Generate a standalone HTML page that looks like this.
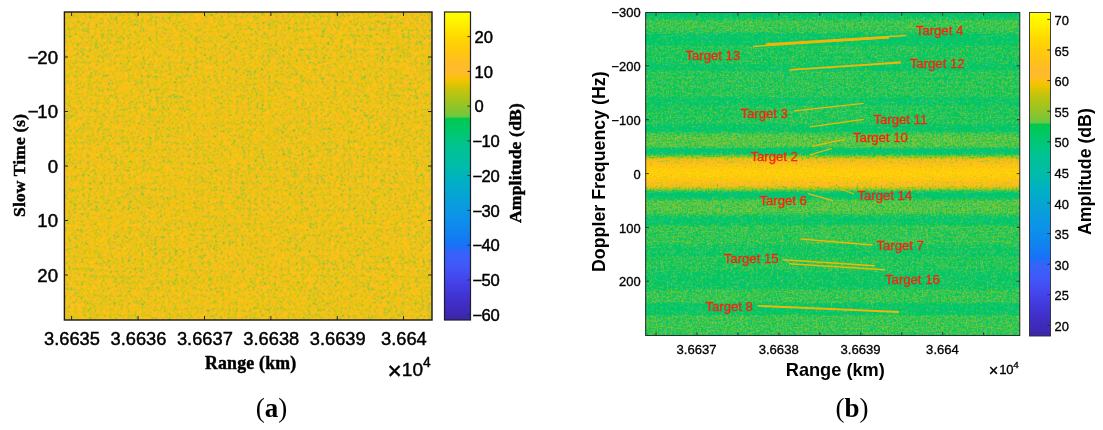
<!DOCTYPE html>
<html lang="en"><head><meta charset="utf-8"><title>Figure</title>
<style>html,body{margin:0;padding:0;background:#fff}body{width:1103px;height:430px;overflow:hidden}svg{display:block}.s{font-family:"Liberation Sans", Arial, Helvetica, sans-serif}.r{font-family:"Liberation Serif", "Times New Roman", serif}.b{font-weight:bold}.ka{stroke:#000;stroke-width:0.45px}.kb{stroke:#000;stroke-width:0.32px}.ks{stroke:#000;stroke-width:0.45px}.tg{fill:#FF200C;font-size:13.15px;stroke:#FF200C;stroke-width:0.3px}</style></head><body>
<svg width="1103" height="430" viewBox="0 0 1103 430">
<defs>
<linearGradient id="cm" x1="0" y1="1" x2="0" y2="0"><stop offset="0.000" stop-color="#3C26A8"/><stop offset="0.065" stop-color="#4030CC"/><stop offset="0.130" stop-color="#4444EC"/><stop offset="0.178" stop-color="#4058F8"/><stop offset="0.217" stop-color="#3862F8"/><stop offset="0.240" stop-color="#1870F8"/><stop offset="0.276" stop-color="#1080F0"/><stop offset="0.340" stop-color="#0C94E8"/><stop offset="0.390" stop-color="#08A0D8"/><stop offset="0.452" stop-color="#00B0C4"/><stop offset="0.503" stop-color="#00BCA8"/><stop offset="0.565" stop-color="#00C490"/><stop offset="0.617" stop-color="#00C868"/><stop offset="0.655" stop-color="#00C850"/><stop offset="0.659" stop-color="#6CC840"/><stop offset="0.695" stop-color="#94C428"/><stop offset="0.730" stop-color="#B4C414"/><stop offset="0.755" stop-color="#D0C408"/><stop offset="0.775" stop-color="#F0C400"/><stop offset="0.790" stop-color="#FCC010"/><stop offset="0.802" stop-color="#FFBC28"/><stop offset="0.820" stop-color="#FFBA2C"/><stop offset="0.860" stop-color="#FFC414"/><stop offset="0.919" stop-color="#FFD800"/><stop offset="0.958" stop-color="#FFEE00"/><stop offset="1.000" stop-color="#FFFF00"/></linearGradient>
<filter id="fA" x="0" y="0" width="100%" height="100%" color-interpolation-filters="sRGB"><feTurbulence type="fractalNoise" baseFrequency="0.85" numOctaves="2" seed="3" result="n"/><feColorMatrix in="n" type="matrix" values="1 0 0 0 0  1 0 0 0 0  1 0 0 0 0  0 0 0 0 1" result="g0"/><feComponentTransfer in="g0" result="g"><feFuncR type="table" tableValues="0 0 0 .2 .36 .5 .56 .62 .68 .74 .8"/><feFuncG type="table" tableValues="0 0 0 .2 .36 .5 .56 .62 .68 .74 .8"/><feFuncB type="table" tableValues="0 0 0 .2 .36 .5 .56 .62 .68 .74 .8"/></feComponentTransfer><feComposite in="g" in2="SourceGraphic" operator="arithmetic" k1="0" k2="0.5" k3="1" k4="-0.250" result="v"/><feComponentTransfer in="v" result="c"><feFuncR type="table" tableValues="0.235 0.237 0.239 0.241 0.243 0.245 0.247 0.248 0.25 0.252 0.254 0.256 0.258 0.26 0.262 0.264 0.265 0.266 0.263 0.261 0.258 0.256 0.253 0.25 0.243 0.237 0.231 0.224 0.21 0.167 0.125 0.092 0.085 0.079 0.072 0.065 0.061 0.06 0.058 0.056 0.054 0.052 0.05 0.048 0.046 0.043 0.041 0.039 0.036 0.034 0.031 0.027 0.023 0.019 0.015 0.011 0.007 0.003 0 0 0 0 0 0 0 0 0 0 0 0 0 0 0 0 0 0 0 0 0 0 0 0 0 0 0.132 0.446 0.48 0.514 0.548 0.582 0.61 0.638 0.666 0.694 0.725 0.759 0.794 0.833 0.882 0.931 0.961 0.985 0.995 1 1 1 1 1 1 1 1 1 1 1 1 1 1 1 1 1 1 1 1 1 1 1 1 1 1"/><feFuncG type="table" tableValues="0.149 0.154 0.158 0.163 0.168 0.173 0.177 0.182 0.187 0.195 0.204 0.213 0.223 0.232 0.242 0.251 0.261 0.271 0.284 0.297 0.31 0.322 0.335 0.347 0.355 0.363 0.37 0.378 0.388 0.407 0.426 0.443 0.457 0.47 0.484 0.497 0.508 0.518 0.528 0.537 0.547 0.556 0.566 0.575 0.584 0.591 0.599 0.606 0.613 0.621 0.628 0.636 0.644 0.652 0.66 0.668 0.676 0.683 0.691 0.698 0.706 0.713 0.72 0.727 0.734 0.74 0.744 0.748 0.752 0.756 0.759 0.763 0.767 0.77 0.773 0.775 0.777 0.78 0.782 0.784 0.784 0.784 0.784 0.784 0.784 0.782 0.779 0.775 0.772 0.769 0.769 0.769 0.769 0.769 0.769 0.769 0.769 0.769 0.769 0.769 0.762 0.754 0.744 0.736 0.733 0.73 0.737 0.745 0.753 0.76 0.768 0.778 0.789 0.799 0.809 0.82 0.83 0.84 0.853 0.871 0.888 0.905 0.923 0.938 0.95 0.963 0.975 0.988 1"/><feFuncB type="table" tableValues="0.659 0.676 0.693 0.71 0.727 0.744 0.761 0.778 0.795 0.81 0.825 0.84 0.856 0.871 0.886 0.901 0.916 0.928 0.936 0.944 0.951 0.959 0.967 0.973 0.973 0.973 0.973 0.973 0.973 0.973 0.973 0.971 0.964 0.957 0.95 0.943 0.939 0.935 0.931 0.927 0.923 0.919 0.916 0.912 0.905 0.895 0.885 0.876 0.866 0.856 0.846 0.836 0.827 0.817 0.807 0.797 0.787 0.777 0.766 0.749 0.733 0.716 0.699 0.682 0.665 0.652 0.64 0.628 0.616 0.604 0.592 0.58 0.569 0.549 0.525 0.502 0.478 0.454 0.431 0.407 0.388 0.369 0.349 0.33 0.294 0.238 0.217 0.197 0.176 0.156 0.139 0.121 0.104 0.086 0.07 0.055 0.041 0.027 0.015 0.002 0.026 0.059 0.117 0.159 0.166 0.172 0.153 0.135 0.117 0.098 0.08 0.069 0.058 0.048 0.038 0.027 0.017 0.007 0 0 0 0 0 0 0 0 0 0 0"/></feComponentTransfer><feConvolveMatrix in="c" order="3" kernelMatrix="1 2 1 2 5 2 1 2 1" edgeMode="duplicate" preserveAlpha="true"/></filter>
<filter id="fB" x="0" y="0" width="100%" height="100%" color-interpolation-filters="sRGB"><feTurbulence type="fractalNoise" baseFrequency="0.8" numOctaves="2" seed="5" result="n"/><feColorMatrix in="n" type="matrix" values="1 0 0 0 0  1 0 0 0 0  1 0 0 0 0  0 0 0 0 1" result="g0"/><feComponentTransfer in="g0" result="g"><feFuncR type="table" tableValues="0 0 0 .15 .4 .5 .56 .62 .68 .74 .8"/><feFuncG type="table" tableValues="0 0 0 .15 .4 .5 .56 .62 .68 .74 .8"/><feFuncB type="table" tableValues="0 0 0 .15 .4 .5 .56 .62 .68 .74 .8"/></feComponentTransfer><feComposite in="g" in2="SourceGraphic" operator="arithmetic" k1="0" k2="0.32" k3="0.5" k4="0.340" result="v"/><feComponentTransfer in="v" result="c"><feFuncR type="table" tableValues="0.235 0.237 0.239 0.241 0.243 0.245 0.247 0.248 0.25 0.252 0.254 0.256 0.258 0.26 0.262 0.264 0.265 0.266 0.263 0.261 0.258 0.256 0.253 0.25 0.243 0.237 0.231 0.224 0.21 0.167 0.125 0.092 0.085 0.079 0.072 0.065 0.061 0.06 0.058 0.056 0.054 0.052 0.05 0.048 0.046 0.043 0.041 0.039 0.036 0.034 0.031 0.027 0.023 0.019 0.015 0.011 0.007 0.003 0 0 0 0 0 0 0 0 0 0 0 0 0 0 0 0 0 0 0 0 0 0 0 0 0 0 0.132 0.446 0.48 0.514 0.548 0.582 0.61 0.638 0.666 0.694 0.725 0.759 0.794 0.833 0.882 0.931 0.961 0.985 0.995 1 1 1 1 1 1 1 1 1 1 1 1 1 1 1 1 1 1 1 1 1 1 1 1 1 1"/><feFuncG type="table" tableValues="0.149 0.154 0.158 0.163 0.168 0.173 0.177 0.182 0.187 0.195 0.204 0.213 0.223 0.232 0.242 0.251 0.261 0.271 0.284 0.297 0.31 0.322 0.335 0.347 0.355 0.363 0.37 0.378 0.388 0.407 0.426 0.443 0.457 0.47 0.484 0.497 0.508 0.518 0.528 0.537 0.547 0.556 0.566 0.575 0.584 0.591 0.599 0.606 0.613 0.621 0.628 0.636 0.644 0.652 0.66 0.668 0.676 0.683 0.691 0.698 0.706 0.713 0.72 0.727 0.734 0.74 0.744 0.748 0.752 0.756 0.759 0.763 0.767 0.77 0.773 0.775 0.777 0.78 0.782 0.784 0.784 0.784 0.784 0.784 0.784 0.782 0.779 0.775 0.772 0.769 0.769 0.769 0.769 0.769 0.769 0.769 0.769 0.769 0.769 0.769 0.762 0.754 0.744 0.736 0.733 0.73 0.737 0.745 0.753 0.76 0.768 0.778 0.789 0.799 0.809 0.82 0.83 0.84 0.853 0.871 0.888 0.905 0.923 0.938 0.95 0.963 0.975 0.988 1"/><feFuncB type="table" tableValues="0.659 0.676 0.693 0.71 0.727 0.744 0.761 0.778 0.795 0.81 0.825 0.84 0.856 0.871 0.886 0.901 0.916 0.928 0.936 0.944 0.951 0.959 0.967 0.973 0.973 0.973 0.973 0.973 0.973 0.973 0.973 0.971 0.964 0.957 0.95 0.943 0.939 0.935 0.931 0.927 0.923 0.919 0.916 0.912 0.905 0.895 0.885 0.876 0.866 0.856 0.846 0.836 0.827 0.817 0.807 0.797 0.787 0.777 0.766 0.749 0.733 0.716 0.699 0.682 0.665 0.652 0.64 0.628 0.616 0.604 0.592 0.58 0.569 0.549 0.525 0.502 0.478 0.454 0.431 0.407 0.388 0.369 0.349 0.33 0.294 0.238 0.217 0.197 0.176 0.156 0.139 0.121 0.104 0.086 0.07 0.055 0.041 0.027 0.015 0.002 0.026 0.059 0.117 0.159 0.166 0.172 0.153 0.135 0.117 0.098 0.08 0.069 0.058 0.048 0.038 0.027 0.017 0.007 0 0 0 0 0 0 0 0 0 0 0"/></feComponentTransfer><feConvolveMatrix in="c" order="3" kernelMatrix="0 1 0 1 4 1 0 1 0" edgeMode="duplicate" preserveAlpha="true"/></filter>
<linearGradient id="pg" x1="0" y1="0" x2="0" y2="1"><stop offset="0.0000" stop-color="rgb(64,64,64)"/><stop offset="0.0139" stop-color="rgb(65,65,65)"/><stop offset="0.0217" stop-color="rgb(76,76,76)"/><stop offset="0.0279" stop-color="rgb(80,80,80)"/><stop offset="0.0542" stop-color="rgb(80,80,80)"/><stop offset="0.0619" stop-color="rgb(75,75,75)"/><stop offset="0.0697" stop-color="rgb(65,65,65)"/><stop offset="0.0975" stop-color="rgb(65,65,65)"/><stop offset="0.1053" stop-color="rgb(74,74,74)"/><stop offset="0.1594" stop-color="rgb(73,73,73)"/><stop offset="0.1641" stop-color="rgb(66,66,66)"/><stop offset="0.1780" stop-color="rgb(66,66,66)"/><stop offset="0.1842" stop-color="rgb(76,76,76)"/><stop offset="0.2585" stop-color="rgb(76,76,76)"/><stop offset="0.2647" stop-color="rgb(67,67,67)"/><stop offset="0.2833" stop-color="rgb(67,67,67)"/><stop offset="0.2895" stop-color="rgb(74,74,74)"/><stop offset="0.3452" stop-color="rgb(74,74,74)"/><stop offset="0.3514" stop-color="rgb(65,65,65)"/><stop offset="0.3669" stop-color="rgb(65,65,65)"/><stop offset="0.3731" stop-color="rgb(78,78,78)"/><stop offset="0.3824" stop-color="rgb(87,87,87)"/><stop offset="0.4133" stop-color="rgb(87,87,87)"/><stop offset="0.4195" stop-color="rgb(74,74,74)"/><stop offset="0.4241" stop-color="rgb(59,59,59)"/><stop offset="0.4334" stop-color="rgb(59,59,59)"/><stop offset="0.4359" stop-color="rgb(66,66,66)"/><stop offset="0.4412" stop-color="rgb(79,79,79)"/><stop offset="0.4458" stop-color="rgb(102,102,102)"/><stop offset="0.4505" stop-color="rgb(128,128,128)"/><stop offset="0.4567" stop-color="rgb(153,153,153)"/><stop offset="0.4737" stop-color="rgb(184,184,184)"/><stop offset="0.4907" stop-color="rgb(201,201,201)"/><stop offset="0.5031" stop-color="rgb(201,201,201)"/><stop offset="0.5201" stop-color="rgb(184,184,184)"/><stop offset="0.5372" stop-color="rgb(153,153,153)"/><stop offset="0.5433" stop-color="rgb(128,128,128)"/><stop offset="0.5480" stop-color="rgb(102,102,102)"/><stop offset="0.5526" stop-color="rgb(79,79,79)"/><stop offset="0.5579" stop-color="rgb(66,66,66)"/><stop offset="0.5588" stop-color="rgb(59,59,59)"/><stop offset="0.5712" stop-color="rgb(59,59,59)"/><stop offset="0.5774" stop-color="rgb(76,76,76)"/><stop offset="0.5836" stop-color="rgb(85,85,85)"/><stop offset="0.6207" stop-color="rgb(85,85,85)"/><stop offset="0.6269" stop-color="rgb(75,75,75)"/><stop offset="0.6331" stop-color="rgb(66,66,66)"/><stop offset="0.6548" stop-color="rgb(66,66,66)"/><stop offset="0.6610" stop-color="rgb(78,78,78)"/><stop offset="0.7167" stop-color="rgb(78,78,78)"/><stop offset="0.7229" stop-color="rgb(70,70,70)"/><stop offset="0.7539" stop-color="rgb(70,70,70)"/><stop offset="0.7601" stop-color="rgb(75,75,75)"/><stop offset="0.7972" stop-color="rgb(75,75,75)"/><stop offset="0.8034" stop-color="rgb(68,68,68)"/><stop offset="0.8529" stop-color="rgb(68,68,68)"/><stop offset="0.8591" stop-color="rgb(79,79,79)"/><stop offset="0.8963" stop-color="rgb(79,79,79)"/><stop offset="0.9025" stop-color="rgb(66,66,66)"/><stop offset="0.9334" stop-color="rgb(66,66,66)"/><stop offset="0.9396" stop-color="rgb(80,80,80)"/><stop offset="0.9861" stop-color="rgb(80,80,80)"/><stop offset="1.0000" stop-color="rgb(76,76,76)"/></linearGradient>
</defs>
<rect width="1103" height="430" fill="#fff"/>
<rect x="64.0" y="12.0" width="368.0" height="308.0" fill="#F2BE1E"/>
<rect x="64.0" y="12.0" width="368.0" height="308.0" fill="rgb(212,212,212)" filter="url(#fA)"/>
<path d="M71.6 12.0v4M71.6 320.0v-4M138.1 12.0v4M138.1 320.0v-4M204.5 12.0v4M204.5 320.0v-4M270.9 12.0v4M270.9 320.0v-4M337.3 12.0v4M337.3 320.0v-4M403.5 12.0v4M403.5 320.0v-4M64.0 57h4M432.0 57h-4M64.0 111.5h4M432.0 111.5h-4M64.0 166h4M432.0 166h-4M64.0 220.5h4M432.0 220.5h-4M64.0 275h4M432.0 275h-4" stroke="#2a2a30" stroke-width="1" fill="none"/>
<rect x="64.4" y="12.0" width="367.6" height="308.0" fill="none" stroke="#16161e" stroke-width="1.4"/>
<text class="s ka" x="72.0" y="345.1" font-size="18.3" text-anchor="middle">3.6635</text>
<text class="s ka" x="138.5" y="345.1" font-size="18.3" text-anchor="middle">3.6636</text>
<text class="s ka" x="204.9" y="345.1" font-size="18.3" text-anchor="middle">3.6637</text>
<text class="s ka" x="271.29999999999995" y="345.1" font-size="18.3" text-anchor="middle">3.6638</text>
<text class="s ka" x="337.7" y="345.1" font-size="18.3" text-anchor="middle">3.6639</text>
<text class="s ka" x="403.9" y="345.1" font-size="18.3" text-anchor="middle">3.664</text>
<text class="s ka" x="58" y="63.8" font-size="18.6" text-anchor="end">−<tspan dx="-1.2">20</tspan></text>
<text class="s ka" x="58" y="118.3" font-size="18.6" text-anchor="end">−<tspan dx="-1.2">10</tspan></text>
<text class="s ka" x="58" y="172.8" font-size="18.6" text-anchor="end">0</text>
<text class="s ka" x="58" y="227.3" font-size="18.6" text-anchor="end">10</text>
<text class="s ka" x="58" y="281.8" font-size="18.6" text-anchor="end">20</text>
<text class="r b ks" x="250.7" y="369.1" font-size="17.8" letter-spacing="0.22" text-anchor="middle">Range (km)</text>
<text class="r b ks" transform="translate(24.5,165.3) rotate(-90)" font-size="17.4" letter-spacing="0.18" text-anchor="middle">Slow Time (s)</text>
<text class="s ka" x="387.4" y="375.7" font-size="19"><tspan font-size="24.4" dy="3.2">×</tspan><tspan dy="-3.2" dx="0.2">10</tspan><tspan dy="-8.9" dx="0" font-size="13.8">4</tspan></text>
<rect x="444.5" y="12" width="26" height="308" fill="url(#cm)" stroke="#1e1e26" stroke-width="1.2"/>
<path d="M470.5 36.6h-3M470.5 71.4h-3M470.5 106.1h-3M470.5 140.9h-3M470.5 175.6h-3M470.5 210.4h-3M470.5 245.2h-3M470.5 279.9h-3M470.5 314.7h-3" stroke="#2a2a30" stroke-width="1" fill="none"/>
<text class="s ka" x="474.5" y="42.8" font-size="16.6">20</text>
<text class="s ka" x="474.5" y="77.6" font-size="16.6">10</text>
<text class="s ka" x="474.5" y="112.3" font-size="16.6">0</text>
<text class="s ka" x="472.4" y="147.1" font-size="16.6">−<tspan dx="-0.7">10</tspan></text>
<text class="s ka" x="472.4" y="181.8" font-size="16.6">−<tspan dx="-0.7">20</tspan></text>
<text class="s ka" x="472.4" y="216.6" font-size="16.6">−<tspan dx="-0.7">30</tspan></text>
<text class="s ka" x="472.4" y="251.4" font-size="16.6">−<tspan dx="-0.7">40</tspan></text>
<text class="s ka" x="472.4" y="286.1" font-size="16.6">−<tspan dx="-0.7">50</tspan></text>
<text class="s ka" x="472.4" y="320.9" font-size="16.6">−<tspan dx="-0.7">60</tspan></text>
<text class="r b ks" transform="translate(521.2,163) rotate(-90)" font-size="17.5" letter-spacing="0.2" text-anchor="middle">Amplitude (dB)</text>
<text class="r" x="271.5" y="416.5" font-size="27" text-anchor="middle">(<tspan class="b">a</tspan>)</text>
<rect x="645.7" y="12.5" width="374.0999999999999" height="323.0" fill="#22C766"/>
<rect x="645.7" y="12.5" width="374.0999999999999" height="323.0" fill="url(#pg)" filter="url(#fB)"/>
<line x1="753" y1="46.4" x2="889" y2="37.8" stroke="#F2B604" stroke-width="1.5"/>
<line x1="766" y1="44.0" x2="906" y2="35.5" stroke="#F2B604" stroke-width="1.6"/>
<line x1="766" y1="45.0" x2="889" y2="37.3" stroke="#F2B604" stroke-width="2.0"/>
<line x1="789.6" y1="69.9" x2="900.6" y2="62.5" stroke="#F2B604" stroke-width="1.8"/>
<line x1="794" y1="110.9" x2="863.6" y2="103.3" stroke="#F2B604" stroke-width="1.3"/>
<line x1="810" y1="126.9" x2="863.6" y2="119.3" stroke="#F2B604" stroke-width="1.3"/>
<line x1="812" y1="146.3" x2="844.4" y2="139.3" stroke="#F2B604" stroke-width="1.2"/>
<line x1="809.6" y1="154.9" x2="832" y2="148.5" stroke="#F2B604" stroke-width="1.2"/>
<line x1="808" y1="193.7" x2="833" y2="200.7" stroke="#F2B604" stroke-width="1.2"/>
<line x1="841" y1="188.9" x2="854" y2="193.9" stroke="#F2B604" stroke-width="1.1"/>
<line x1="801" y1="238.9" x2="872.4" y2="244.9" stroke="#F2B604" stroke-width="1.5"/>
<line x1="782.4" y1="259.7" x2="875" y2="265.7" stroke="#F2B604" stroke-width="1.55"/>
<line x1="789" y1="263.7" x2="885" y2="269.7" stroke="#F2B604" stroke-width="1.55"/>
<line x1="757.8" y1="305.8" x2="899" y2="312.0" stroke="#F2B604" stroke-width="1.8"/>
<text class="s tg" x="915.8" y="34.8">Target 4</text>
<text class="s tg" x="685.4" y="59.8">Target 13</text>
<text class="s tg" x="909.8" y="68.2">Target 12</text>
<text class="s tg" x="740.4" y="117.8">Target 3</text>
<text class="s tg" x="873.4" y="124.2">Target 11</text>
<text class="s tg" x="853.0" y="142.4">Target 10</text>
<text class="s tg" x="750.4" y="160.8">Target 2</text>
<text class="s tg" x="759.4" y="205.4">Target 6</text>
<text class="s tg" x="857.4" y="199.8">Target 14</text>
<text class="s tg" x="876.4" y="249.8">Target 7</text>
<text class="s tg" x="723.8" y="262.8">Target 15</text>
<text class="s tg" x="885.0" y="284.2">Target 16</text>
<text class="s tg" x="705.4" y="310.8">Target 8</text>
<path d="M656.0 12.5v3.2M656.0 335.5v-3.2M697.0 12.5v3.2M697.0 335.5v-3.2M737.9 12.5v3.2M737.9 335.5v-3.2M778.9 12.5v3.2M778.9 335.5v-3.2M819.8 12.5v3.2M819.8 335.5v-3.2M860.8 12.5v3.2M860.8 335.5v-3.2M901.7 12.5v3.2M901.7 335.5v-3.2M942.7 12.5v3.2M942.7 335.5v-3.2M983.6 12.5v3.2M983.6 335.5v-3.2M645.7 65.8h3.2M1019.8 65.8h-3.2M645.7 119.7h3.2M1019.8 119.7h-3.2M645.7 173.6h3.2M1019.8 173.6h-3.2M645.7 227.4h3.2M1019.8 227.4h-3.2M645.7 281.2h3.2M1019.8 281.2h-3.2" stroke="#2a2a30" stroke-width="0.9" fill="none"/>
<rect x="645.7" y="12.5" width="374.0999999999999" height="323.0" fill="none" stroke="#2c2c34" stroke-width="1"/>
<text class="s kb" x="696.6" y="353.9" font-size="13.1" text-anchor="middle">3.6637</text>
<text class="s kb" x="778.7" y="353.9" font-size="13.1" text-anchor="middle">3.6638</text>
<text class="s kb" x="860.5" y="353.9" font-size="13.1" text-anchor="middle">3.6639</text>
<text class="s kb" x="942.5" y="353.9" font-size="13.1" text-anchor="middle">3.664</text>
<text class="s kb" x="640.6" y="17.2" font-size="12.9" text-anchor="end">−300</text>
<text class="s kb" x="640.6" y="71.0" font-size="12.9" text-anchor="end">−200</text>
<text class="s kb" x="640.6" y="124.9" font-size="12.9" text-anchor="end">−100</text>
<text class="s kb" x="640.6" y="178.8" font-size="12.9" text-anchor="end">0</text>
<text class="s kb" x="640.6" y="232.6" font-size="12.9" text-anchor="end">100</text>
<text class="s kb" x="640.6" y="286.4" font-size="12.9" text-anchor="end">200</text>
<text class="s b" x="835.3" y="376" font-size="18.2" text-anchor="middle">Range (km)</text>
<text class="s b" transform="translate(605.0,171.7) rotate(-90)" font-size="17.8" text-anchor="middle">Doppler Frequency (Hz)</text>
<text class="s kb" x="988.8" y="373.9" font-size="13"><tspan font-size="16.5" dy="2.4">×</tspan><tspan dy="-2.4" dx="0.7">10</tspan><tspan dy="-6" dx="-0.4" font-size="9.9">4</tspan></text>
<rect x="1029.5" y="12.5" width="21" height="323.5" fill="url(#cm)" stroke="#2c2c34" stroke-width="0.9"/>
<path d="M1050.5 19.4h-3.2M1050.5 50.0h-3.2M1050.5 80.6h-3.2M1050.5 111.2h-3.2M1050.5 141.8h-3.2M1050.5 172.4h-3.2M1050.5 203.0h-3.2M1050.5 233.6h-3.2M1050.5 264.2h-3.2M1050.5 294.8h-3.2M1050.5 325.4h-3.2" stroke="#2a2a30" stroke-width="0.9" fill="none"/>
<text class="s kb" x="1054.5" y="25.0" font-size="12.9">70</text>
<text class="s kb" x="1054.5" y="55.6" font-size="12.9">65</text>
<text class="s kb" x="1054.5" y="86.2" font-size="12.9">60</text>
<text class="s kb" x="1054.5" y="116.8" font-size="12.9">55</text>
<text class="s kb" x="1054.5" y="147.4" font-size="12.9">50</text>
<text class="s kb" x="1054.5" y="178.0" font-size="12.9">45</text>
<text class="s kb" x="1054.5" y="208.6" font-size="12.9">40</text>
<text class="s kb" x="1054.5" y="239.2" font-size="12.9">35</text>
<text class="s kb" x="1054.5" y="269.8" font-size="12.9">30</text>
<text class="s kb" x="1054.5" y="300.4" font-size="12.9">25</text>
<text class="s kb" x="1054.5" y="331.0" font-size="12.9">20</text>
<text class="s b" transform="translate(1090.6,171.6) rotate(-90)" font-size="17.7" text-anchor="middle">Amplitude (dB)</text>
<text class="r" x="852" y="416.5" font-size="27" text-anchor="middle">(<tspan class="b">b</tspan>)</text>
</svg></body></html>
